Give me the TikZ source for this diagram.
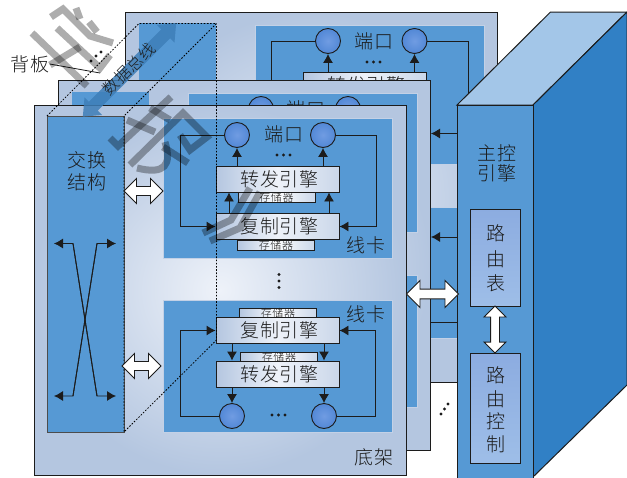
\documentclass[tikz,border=0pt]{standalone}
\usepackage{fontspec}
\setmainfont{Liberation Serif}
\newfontfamily\cjk[LetterSpace=5]{Noto Sans CJK SC Light}
\usetikzlibrary{arrows.meta,shapes.arrows}
\definecolor{cardblue}{RGB}{86,153,212}
\definecolor{sideblue}{RGB}{49,128,197}
\definecolor{topblue}{RGB}{163,198,232}
\definecolor{framelo}{RGB}{180,198,224}
\definecolor{framehi}{RGB}{238,242,249}
\definecolor{ink}{RGB}{28,28,28}
\definecolor{portin}{RGB}{112,156,226}
\definecolor{portout}{RGB}{82,136,214}
\definecolor{routetop}{RGB}{140,172,224}
\definecolor{routebot}{RGB}{158,190,232}
\definecolor{busblue}{RGB}{62,126,184}
\tikzset{
  x=1pt,y=-1pt,
  every node/.style={font=\cjk\fontsize{19}{20}\selectfont,text=ink,inner sep=0pt},
  frame/.style={draw=ink,line width=1pt,inner color=framehi,outer color=framelo,minimum width=372pt,minimum height=370pt},
  card/.style={fill=cardblue,draw=framelo!80!white,line width=.7pt,minimum width=229pt},
  fabric/.style={fill=cardblue,draw=black!70,line width=1pt,minimum width=77pt},
  engine/.style={draw=ink,line width=.9pt,left color=framelo,right color=framelo!70!white,middle color=framehi,minimum width=123pt,minimum height=26pt},
  store/.style={draw=ink,line width=.7pt,left color=framelo,right color=framelo!70!white,middle color=white,minimum width=77pt,minimum height=10pt,font=\cjk\fontsize{11}{11}\selectfont},
  port/.style={draw=ink,line width=.9pt,circle,minimum size=25pt,inner color=portin,outer color=portout},
  wire/.style={draw=ink,line width=.9pt},
  arrowed/.style={wire,-{Latex[length=9pt,width=10pt]}},
  fat/.style={double arrow,draw=ink,line width=.9pt,fill=white,double arrow head extend=8pt,double arrow tip angle=90,inner sep=4pt,minimum width=25pt},
  route/.style={draw=ink,line width=1pt,minimum width=50pt,top color=routetop,bottom color=routebot},
  guide/.style={draw=black,line width=.8pt,dash pattern=on 1.6pt off 1.6pt},
  pip/.style={fill=ink,circle,minimum size=3.4pt},
  ghost/.style={draw=black,opacity=.32,line width=7pt,line join=miter},
}
\newcommand{\enginetext}[1]{\kern4pt #1}
\begin{document}
\begin{tikzpicture}
\clip (0,0) rectangle (627,477);
\fill[white] (0,0) rectangle (627,477);

% back chassis
\node[frame] (chb) at (311,197) {};
\node[fabric,draw=none,minimum height=100pt] (fabb) at (177.5,73) {};
\node[card,minimum height=139pt] (cb1) at (369.5,94.5) {};
\node[card,minimum height=131pt] (cb2) at (369.5,272.5) {};
\node[port] (pb1) at (328,41) {};
\node[port] (pb2) at (414.5,41) {};
\node at (374,41) (tb) {端口};
\node[engine] (fb) at (364.5,85) {\enginetext{转发引擎}};
\foreach \x [count=\i] in {367,373.5,380} \node[pip] (db\i) at (\x,62) {};
\coordinate (bl) at (271.5,90);
\coordinate (br) at (468,140);
\draw[wire] (pb1.west) -| (bl);
\draw[wire] (pb2.east) -| (br);
\draw[arrowed] (pb1 |- fb.north) -- (pb1.south);
\draw[arrowed] (pb2 |- fb.north) -- (pb2.south);

% middle chassis
\node[frame] (chm) at (244,265) {};
\node[fabric,draw=none,minimum height=40pt] (fabm) at (110,112) {};
\node[card,minimum height=139pt] (cm1) at (302.5,162.5) {};
\node[card,minimum height=132pt] (cm2) at (302.5,341) {};
\node[port] (pm1) at (261,109) {};
\node[port] (pm2) at (348,109) {};
\node (tm) at (306,109) {端口};

% front chassis
\node[frame] (chf) at (220,290) {};
\node[fabric,minimum height=316pt] (fab) at (85.5,274) {};
\node[card,minimum height=140pt] (c1) at (277.5,188) {};
\node[card,minimum height=132pt] (c2) at (277.5,366) {};
\node (t1) at (87,160) {交换};
\node (t2) at (87,182) {结构};

% upper line card
\node[port] (p1) at (237,135) {};
\node[port] (p2) at (323,135) {};
\node (t3) at (284,134) {端口};
\foreach \x [count=\i] in {277,283.5,290} \node[pip] (du\i) at (\x,155) {};
\node[store] (s1) at (276.5,197) {存储器};
\node[store] (s2) at (276,245) {存储器};
\node[engine] (f1) at (277.5,179) {\enginetext{转发引擎}};
\node[engine] (r1) at (277.5,226.5) {\enginetext{复制引擎}};
\node (t4) at (366,245) {线卡};
\coordinate (ul) at (180.5,226.5);
\coordinate (ur) at (376.5,226.5);
\draw[arrowed] (p1.west) -| (ul) -- (r1.west);
\draw[arrowed] (p2.east) -| (ur) -- (r1.east);
\draw[arrowed] (p1 |- f1.north) -- (p1.south);
\draw[arrowed] (p2 |- f1.north) -- (p2.south);
\draw[arrowed] ([xshift=-48.5pt]r1.north) -- ([xshift=-48.5pt]f1.south);
\draw[arrowed] ([xshift=51.5pt]r1.north) -- ([xshift=51.5pt]f1.south);

% vertical dots
\foreach \y [count=\i] in {274.5,281,287.5} \node[pip] (dv\i) at (279,\y) {};

% lower line card
\node[store] (s3) at (278,313) {存储器};
\node[store] (s4) at (279,357) {存储器};
\node[engine] (r2) at (277.5,330.5) {\enginetext{复制引擎}};
\node[engine] (f2) at (277.5,374) {\enginetext{转发引擎}};
\node[port] (p3) at (232,416) {};
\node[port] (p4) at (324,416) {};
\foreach \x [count=\i] in {272,278.5,285} \node[pip] (dl\i) at (\x,415) {};
\node (t5) at (366,314) {线卡};
\coordinate (ll) at (180.5,330.5);
\coordinate (lr) at (375.5,330.5);
\draw[arrowed] (p3.west) -| (ll) -- (r2.west);
\draw[arrowed] (p4.east) -| (lr) -- (r2.east);
\draw[arrowed] (p3 |- r2.south) -- (p3 |- f2.north);
\draw[arrowed] (p4 |- r2.south) -- (p4 |- f2.north);
\draw[arrowed] (p3 |- f2.south) -- (p3.north);
\draw[arrowed] (p4 |- f2.south) -- (p4.north);
\node (t6) at (374,457) {底架};

% crossing inside switch fabric
\coordinate (xa) at (73,243.5);
\coordinate (xb) at (97,243.5);
\coordinate (xc) at (73,396);
\coordinate (xd) at (97,396);
\coordinate (xa1) at (54,243.5);
\coordinate (xb1) at (116,243.5);
\coordinate (xc1) at (54,396);
\coordinate (xd1) at (116,396);
\draw[arrowed] (xd) -- (xa) -- (xa1);
\draw[arrowed] (xc) -- (xb) -- (xb1);
\draw[arrowed] (xb) -- (xc) -- (xc1);
\draw[arrowed] (xa) -- (xd) -- (xd1);

% guide lines of the backplane
\coordinate (g1) at (47,116);
\coordinate (g2) at (139,23.5);
\coordinate (g3) at (216.5,23.5);
\coordinate (g4) at (124,116);
\coordinate (g5) at (124,432);
\coordinate (g6) at (216.5,340);
\draw[guide] (g1) -- (g2) -- (g3) -- (g4) -- (g5) -- (g6) -- (g3);

% main control engine
\fill[topblue,draw=ink,line width=1pt] (457,105) -- (550.5,12) -- (627,12) -- (533,105) -- cycle;
\fill[sideblue,draw=ink,line width=1pt] (533,105) -- (627,12) -- (627,385) -- (533,477) -- cycle;
\coordinate (a1) at (457,133.5);
\coordinate (a1e) at (431,133.5);
\coordinate (a2) at (457,237);
\coordinate (a2e) at (431,237);
\coordinate (a3) at (457,322.5);
\coordinate (a3e) at (431,322.5);
\draw[arrowed] (a1) -- (a1e);
\draw[arrowed] (a2) -- (a2e);
\draw[wire] (a3) -- (a3e);
\node[draw=ink,line width=1pt,fill=cardblue,minimum width=76pt,minimum height=385pt] (main) at (495,297.5) {};
\node (t7) at (497,153) {主控};
\node (t8) at (497,173) {引擎};
\node[route,minimum height=97pt] (rt) at (495,257.5) {};
\node[route,minimum height=110pt] (rc) at (495,408) {};
\foreach \c/\y/\n in {路/233/a,由/259/b,表/283/c,路/375/d,由/399/e,控/421/f,制/444/g}
  \node (w\n) at (495.5,\y) {\c};

% white double arrows
\node[fat,minimum height=39pt] (h1) at (143.5,191) {};
\node[fat,minimum height=39pt] (h2) at (141.5,366) {};
\node[fat,minimum height=52pt,minimum width=27pt] (h3) at (432.5,294) {};
\node[fat,minimum height=47pt,minimum width=21pt,rotate=90,double arrow head extend=6.5pt] (h4) at (495,329.5) {};

% data bus
\node[double arrow,fill=busblue,opacity=.85,rotate=45,double arrow head extend=6pt,double arrow tip angle=80,inner sep=6pt,minimum width=25pt,minimum height=132pt] (bus) at (129.5,70) {};
\node[rotate=45,font=\cjk\fontsize{16}{18}\selectfont] (t9) at (129,69) {数据总线};

% backplane label
\node (t10) at (30,64) {背板};
\coordinate (bp) at (100,73);
\draw[draw=ink,line width=.8pt] (t10.east) -- (bp);
\foreach \x/\y [count=\i] in {91/61,96/56,101/52} \node[pip] (dp\i) at (\x,\y) {};
\foreach \x/\y [count=\i] in {441/414,444.5/409,448/404} \node[pip] (dq\i) at (\x,\y) {};

% watermark strokes
\draw[ghost] (32,33) -- (87,86);
\draw[ghost] (51,17) -- (63,9) -- (90,36) -- (113,43);
\draw[ghost] (57,28) -- (100,68) -- (110,55);
\draw[ghost] (76,8) -- (80,19);
\draw[ghost] (89,22) -- (97,32);
\draw[ghost] (50,65) -- (80,47);
\draw[ghost] (110,138) -- (118,146) -- (171,97);
\draw[ghost] (127,120) -- (155,132);
\draw[ghost] (150,108) -- (170,120);
\draw[ghost] (130,165) -- (183,113) -- (207,137) -- (190,150) -- (180,135);
\draw[ghost] (163,147) -- (188,163);
\draw[ghost] (137,168) .. controls (165,175) and (172,165) .. (165,142);
\draw[ghost] (203,233) -- (231,220) -- (250,188);
\draw[ghost] (210,241) -- (240,228) -- (260,192);
\end{tikzpicture}
\end{document}
